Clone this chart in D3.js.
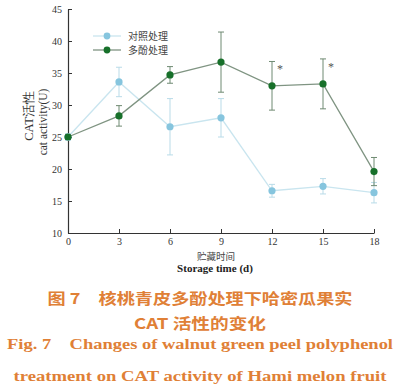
<!DOCTYPE html>
<html>
<head>
<meta charset="utf-8">
<script src="https://cdn.jsdelivr.net/npm/d3@7"></script>
<style>
  body { margin: 0; background: #fff; }
  svg { display: block; }
</style>
</head>
<body>
<svg id="chart"></svg>
<script>
let days = [0, 3, 6, 9, 12, 15, 18];
let controlVals = [25.0, 33.6, 26.6, 28.0, 16.6, 17.3, 16.3];
let controlErr = [0.5, 2.3, 4.4, 3.0, 1.0, 1.2, 1.6];
let phenolVals = [25.0, 28.3, 34.7, 36.7, 33.0, 33.3, 19.6];
let phenolErr = [0.4, 1.6, 1.3, 4.7, 3.8, 3.9, 2.2];
let starDays = [12, 15];
let yTicks = [10, 15, 20, 25, 30, 35, 40, 45];
let legendNames = ["对照处理", "多酚处理"];

let W = 400, H = 389;
let serif = "'Liberation Serif', 'DejaVu Serif', serif";
let cjk = "'Noto Sans CJK SC', sans-serif";

let svg = d3.select("#chart")
    .attr("width", W)
    .attr("height", H);

let x = d3.scaleLinear().domain([0, 18]).range([68, 374]);
let y = d3.scaleLinear().domain([10, 45]).range([233, 9]);

// axes, ticks inward
let xAxis = svg.append("g")
    .attr("transform", "translate(0," + y(10) + ")")
    .call(d3.axisBottom(x).tickValues(days).tickSizeInner(-4).tickSizeOuter(0).tickPadding(5));
let yAxis = svg.append("g")
    .attr("transform", "translate(" + x(0) + ",0)")
    .call(d3.axisLeft(y).tickValues(yTicks).tickSizeInner(-4).tickSizeOuter(0).tickPadding(6));

[xAxis, yAxis].forEach(function (g) {
    g.select(".domain").attr("stroke", "#333").attr("stroke-width", 1.2);
    g.selectAll(".tick line").attr("stroke", "#333");
    g.selectAll(".tick text")
        .attr("fill", "#333")
        .style("font-family", serif)
        .style("font-size", "10px");
});

function drawSeries(vals, errs, lineColor, barColor, dotColor) {
    let pts = days.map(function (d, i) {
        return {day: d, v: vals[i], e: errs[i]};
    });
    let line = d3.line()
        .x(function (d) { return x(d.day); })
        .y(function (d) { return y(d.v); });
    svg.append("path")
        .datum(pts)
        .attr("d", line)
        .attr("fill", "none")
        .attr("stroke", lineColor)
        .attr("stroke-width", 1.3);

    let eb = svg.append("g").selectAll("g")
        .data(pts)
        .enter()
        .append("g")
        .attr("stroke", barColor)
        .attr("stroke-width", 1);
    eb.append("line")
        .attr("x1", function (d) { return x(d.day); })
        .attr("x2", function (d) { return x(d.day); })
        .attr("y1", function (d) { return y(d.v - d.e); })
        .attr("y2", function (d) { return y(d.v + d.e); });
    eb.append("line")
        .attr("x1", function (d) { return x(d.day) - 3; })
        .attr("x2", function (d) { return x(d.day) + 3; })
        .attr("y1", function (d) { return y(d.v + d.e); })
        .attr("y2", function (d) { return y(d.v + d.e); });
    eb.append("line")
        .attr("x1", function (d) { return x(d.day) - 3; })
        .attr("x2", function (d) { return x(d.day) + 3; })
        .attr("y1", function (d) { return y(d.v - d.e); })
        .attr("y2", function (d) { return y(d.v - d.e); });

    svg.append("g").selectAll("circle")
        .data(pts)
        .enter()
        .append("circle")
        .attr("cx", function (d) { return x(d.day); })
        .attr("cy", function (d) { return y(d.v); })
        .attr("r", 3.6)
        .attr("fill", dotColor);
}

drawSeries(controlVals, controlErr, "#c9e5ef", "#b9dbe8", "#86c5de");
drawSeries(phenolVals, phenolErr, "#7f9482", "#6f8a72", "#17702a");

// significance marks
svg.append("g").selectAll("text")
    .data(starDays)
    .enter()
    .append("text")
    .attr("x", function (d) { return x(d) + 5; })
    .attr("y", function (d) {
        let i = days.indexOf(d);
        return y(phenolVals[i] + phenolErr[i]) + 12;
    })
    .attr("fill", "#555")
    .style("font-family", serif)
    .style("font-size", "12px")
    .text("*");

// legend
let legendColors = [["#c9e5ef", "#86c5de"], ["#7f9482", "#17702a"]];
let lg = svg.append("g").selectAll("g")
    .data(legendNames)
    .enter()
    .append("g")
    .attr("transform", function (d, i) { return "translate(93," + (36 + i * 14) + ")"; });
lg.append("line")
    .attr("x1", 0).attr("x2", 28)
    .attr("stroke", function (d, i) { return legendColors[i][0]; })
    .attr("stroke-width", 1.3);
lg.append("circle")
    .attr("cx", 14)
    .attr("r", 3.4)
    .attr("fill", function (d, i) { return legendColors[i][1]; });
lg.append("text")
    .attr("x", 35)
    .attr("y", 4)
    .attr("fill", "#444")
    .style("font-family", cjk)
    .style("font-size", "10px")
    .text(function (d) { return d; });

// y axis titles
svg.append("text")
    .attr("transform", "translate(33,116) rotate(-90)")
    .attr("text-anchor", "middle")
    .attr("fill", "#333")
    .style("font-family", serif)
    .style("font-size", "12.5px")
    .text("CAT活性");
svg.append("text")
    .attr("transform", "translate(47,122) rotate(-90)")
    .attr("text-anchor", "middle")
    .attr("fill", "#333")
    .style("font-family", serif)
    .style("font-size", "11.5px")
    .text("cat activity(U)");

// x axis titles
svg.append("text")
    .attr("x", 216).attr("y", 260)
    .attr("text-anchor", "middle")
    .attr("fill", "#444")
    .style("font-family", cjk)
    .style("font-size", "9.5px")
    .text("贮藏时间");
svg.append("text")
    .attr("x", 215).attr("y", 272)
    .attr("text-anchor", "middle")
    .attr("fill", "#222")
    .style("font-family", serif)
    .style("font-weight", "bold")
    .style("font-size", "11px")
    .text("Storage time (d)");

// caption
let captionLines = [
    {t: "图 7　核桃青皮多酚处理下哈密瓜果实", y: 304, f: cjk, w: 305},
    {t: "CAT 活性的变化", y: 329, f: cjk, w: 132},
    {t: "Fig. 7　Changes of walnut green peel polyphenol", y: 349, f: serif, w: 386},
    {t: "treatment on CAT activity of Hami melon fruit", y: 381, f: serif, w: 373}
];
svg.append("g").selectAll("text")
    .data(captionLines)
    .enter()
    .append("text")
    .attr("x", 200)
    .attr("y", function (d) { return d.y; })
    .attr("text-anchor", "middle")
    .attr("textLength", function (d) { return d.w; })
    .attr("lengthAdjust", "spacingAndGlyphs")
    .attr("fill", "#e08036")
    .style("font-family", function (d) { return d.f; })
    .style("font-weight", "bold")
    .style("font-size", "15px")
    .text(function (d) { return d.t; });
</script>
</body>
</html>
